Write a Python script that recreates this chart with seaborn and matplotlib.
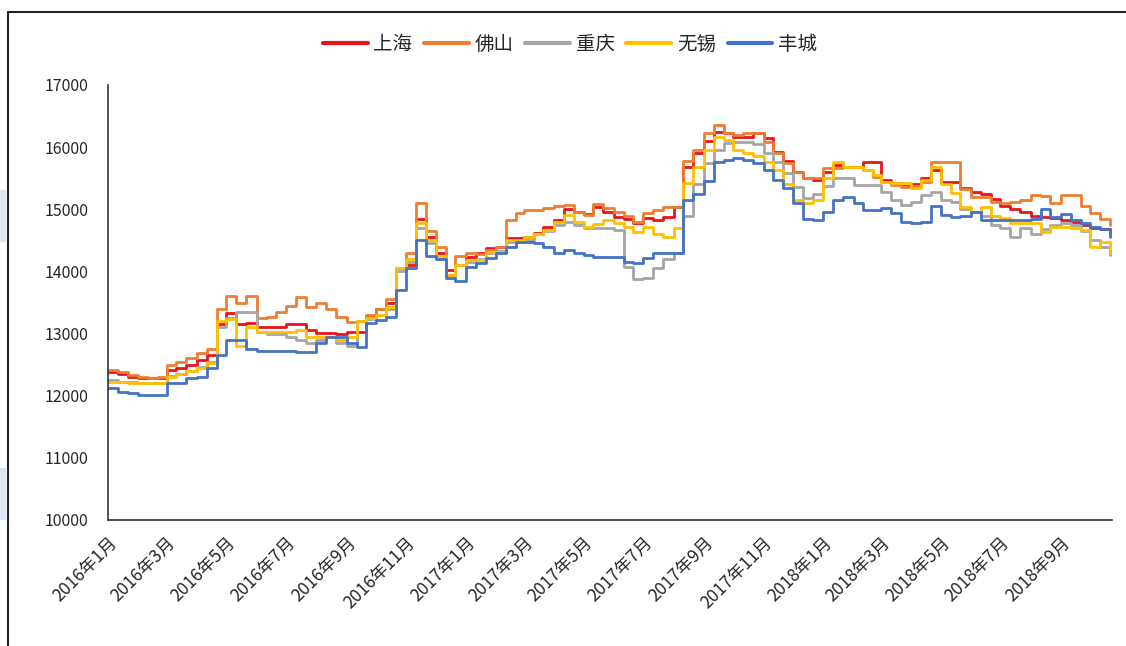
import matplotlib
matplotlib.use("Agg")
import matplotlib.pyplot as plt
from matplotlib.patches import Rectangle
from matplotlib.lines import Line2D
import seaborn as sns
import pandas as pd

sns.set_style("white")
plt.rcParams["font.family"] = ["Noto Sans CJK SC", "DejaVu Sans"]
plt.rcParams["axes.unicode_minus"] = False

# sampling dates: 1st, 11th and 21st of every month, 2016-01 .. 2018-10
dates = pd.to_datetime([f"{y}-{m:02d}-{d:02d}"
                        for y in (2016, 2017, 2018)
                        for m in range(1, 13)
                        for d in (1, 11, 21)
                        if (y, m) <= (2018, 10)])

cities = ["上海", "佛山", "重庆", "无锡", "丰城"]
colors = ["#E8141B", "#ED7D31", "#A5A5A5", "#FFC000", "#4472C4"]

shanghai = [
    12380, 12350, 12300, 12280, 12280, 12280, 12420, 12450, 12500, 12580, 12650, 13150,
    13330, 13150, 13170, 13100, 13100, 13100, 13150, 13150, 13050, 13010, 13010, 13000,
    13020, 13030, 13270, 13400, 13490, 14050, 14100, 14850, 14550, 14300, 14020, 14100,
    14230, 14300, 14370, 14400, 14540, 14540, 14560, 14620, 14720, 14830, 15000, 14960,
    14920, 15040, 14960, 14880, 14850, 14780, 14860, 14830, 14880, 15040, 15680, 15900,
    16100, 16250, 16230, 16170, 16170, 16230, 16150, 15920, 15780, 15600, 15500, 15470,
    15600, 15710, 15680, 15680, 15760, 15760, 15470, 15420, 15380, 15400, 15500, 15630,
    15440, 15440, 15340, 15280, 15240, 15170, 15060, 15000, 14960, 14900, 14880, 14860,
    14830, 14800, 14740, 14700, 14680, 14640]

foshan = [
    12420, 12380, 12330, 12300, 12280, 12300, 12500, 12550, 12600, 12680, 12750, 13400,
    13600, 13500, 13600, 13250, 13270, 13350, 13450, 13590, 13430, 13500, 13400, 13270,
    13190, 13200, 13300, 13400, 13550, 14050, 14300, 15100, 14650, 14400, 13950, 14250,
    14300, 14280, 14340, 14390, 14830, 14940, 14990, 14990, 15020, 15050, 15070, 14960,
    14910, 15090, 15020, 14960, 14900, 14800, 14940, 14990, 15040, 15040, 15780, 15950,
    16230, 16350, 16230, 16200, 16220, 16230, 16090, 15900, 15750, 15600, 15500, 15500,
    15660, 15660, 15680, 15680, 15630, 15520, 15440, 15390, 15360, 15370, 15440, 15760,
    15760, 15760, 15330, 15200, 15200, 15120, 15100, 15120, 15150, 15230, 15220, 15100,
    15230, 15230, 15060, 14940, 14850, 14750]

chongqing = [
    12250, 12220, 12220, 12200, 12200, 12200, 12320, 12350, 12400, 12470, 12550, 13100,
    13250, 13350, 13350, 13030, 13000, 13000, 12950, 12900, 12850, 12900, 12950, 12850,
    12800, 13200, 13230, 13300, 13400, 14000, 14150, 14700, 14450, 14200, 13900, 14100,
    14150, 14200, 14300, 14330, 14480, 14480, 14500, 14600, 14650, 14750, 14800, 14750,
    14700, 14700, 14700, 14670, 14070, 13880, 13900, 14050, 14200, 14300, 14900, 15400,
    15750, 15950, 16060, 16090, 16090, 16050, 15900, 15760, 15580, 15360, 15180, 15250,
    15380, 15500, 15500, 15390, 15390, 15390, 15280, 15150, 15070, 15120, 15230, 15280,
    15150, 15120, 15000, 14960, 14900, 14750, 14700, 14560, 14700, 14600, 14680, 14740,
    14780, 14750, 14650, 14500, 14390, 14260]

wuxi = [
    12220, 12220, 12200, 12200, 12200, 12200, 12300, 12350, 12400, 12450, 12530, 13200,
    13240, 12800, 13100, 13030, 13030, 13030, 13030, 13050, 12950, 12950, 12950, 12900,
    12950, 13200, 13250, 13300, 13420, 14050, 14200, 14780, 14500, 14250, 13950, 14100,
    14180, 14180, 14310, 14310, 14500, 14500, 14550, 14600, 14670, 14800, 14910, 14800,
    14720, 14760, 14830, 14780, 14720, 14640, 14720, 14600, 14560, 14700, 15420, 15680,
    15950, 16170, 16120, 15950, 15900, 15850, 15760, 15630, 15400, 15150, 15100, 15150,
    15500, 15760, 15680, 15680, 15630, 15550, 15440, 15420, 15420, 15340, 15470, 15680,
    15400, 15260, 15040, 14960, 15040, 14900, 14860, 14780, 14780, 14780, 14640, 14720,
    14720, 14700, 14670, 14400, 14470, 14290]

fengcheng = [
    12120, 12060, 12040, 12010, 12010, 12010, 12200, 12200, 12280, 12300, 12450, 12650,
    12900, 12900, 12750, 12720, 12720, 12720, 12720, 12700, 12700, 12850, 12950, 12950,
    12850, 12780, 13170, 13220, 13270, 13700, 14050, 14500, 14250, 14200, 13900, 13850,
    14070, 14130, 14210, 14290, 14390, 14470, 14470, 14460, 14390, 14290, 14350, 14300,
    14260, 14230, 14230, 14230, 14150, 14130, 14210, 14290, 14290, 14290, 15150, 15250,
    15450, 15760, 15800, 15820, 15800, 15740, 15630, 15470, 15340, 15100, 14850, 14830,
    14960, 15150, 15200, 15100, 14990, 14990, 15020, 14940, 14800, 14780, 14800, 15050,
    14910, 14880, 14900, 14960, 14830, 14830, 14830, 14830, 14830, 14850, 15000, 14880,
    14930, 14830, 14780, 14720, 14680, 14560]

series = [shanghai, foshan, chongqing, wuxi, fengcheng]

df = pd.concat([pd.DataFrame({"date": dates, "price": vals, "city": c})
                for c, vals in zip(cities, series)], ignore_index=True)

fig = plt.figure(figsize=(11.26, 6.46), dpi=100)
ax = fig.add_axes([108 / 1126, 1 - 520 / 646, (1112 - 108) / 1126, (520 - 85) / 646])

sns.lineplot(data=df, x="date", y="price", hue="city", hue_order=cities,
             palette=dict(zip(cities, colors)), drawstyle="steps-post",
             linewidth=2.0, ax=ax, legend=False)

ax.set_xlim(pd.Timestamp("2016-01-01"), pd.Timestamp("2018-10-23"))
ax.set_ylim(10000, 17000)
ax.set_yticks(range(10000, 17001, 1000))
ax.set_xlabel("")
ax.set_ylabel("")

ticks = pd.date_range("2016-01-01", "2018-09-01", freq="2MS")
ax.set_xticks(ticks)
ax.set_xticklabels([f"{t.year}年{t.month}月" for t in ticks], rotation=45,
                   ha="right", rotation_mode="anchor", fontsize=12.5)
ax.tick_params(axis="x", direction="out", length=7, width=1, color="#333333", pad=3)
ax.tick_params(axis="y", direction="in", length=7, width=1, color="#333333",
               labelsize=11.5, pad=14)

for s in ["top", "right"]:
    ax.spines[s].set_visible(False)
for s in ["left", "bottom"]:
    ax.spines[s].set_color("#333333")
    ax.spines[s].set_linewidth(1.2)

handles = [Line2D([], [], color=c, lw=3) for c in colors]
fig.legend(handles, cities, loc="center", bbox_to_anchor=(570 / 1126, 1 - 44 / 646),
           ncol=5, frameon=False, fontsize=14, handlelength=2.3, handletextpad=0.3,
           columnspacing=0.6)

# outer frame of the pasted chart
fig.add_artist(Line2D([8 / 1126, 8 / 1126], [0, 1 - 12 / 646], color="#222222", lw=1.5))
fig.add_artist(Line2D([8 / 1126, 1], [1 - 12 / 646, 1 - 12 / 646], color="#222222", lw=1.5))
fig.add_artist(Rectangle((0, 1 - 242 / 646), 6 / 1126, 52 / 646, color="#DCE6F2", lw=0))
fig.add_artist(Rectangle((0, 1 - 520 / 646), 6 / 1126, 52 / 646, color="#DCE6F2", lw=0))

fig.savefig("out.png", dpi=100, facecolor="w")
